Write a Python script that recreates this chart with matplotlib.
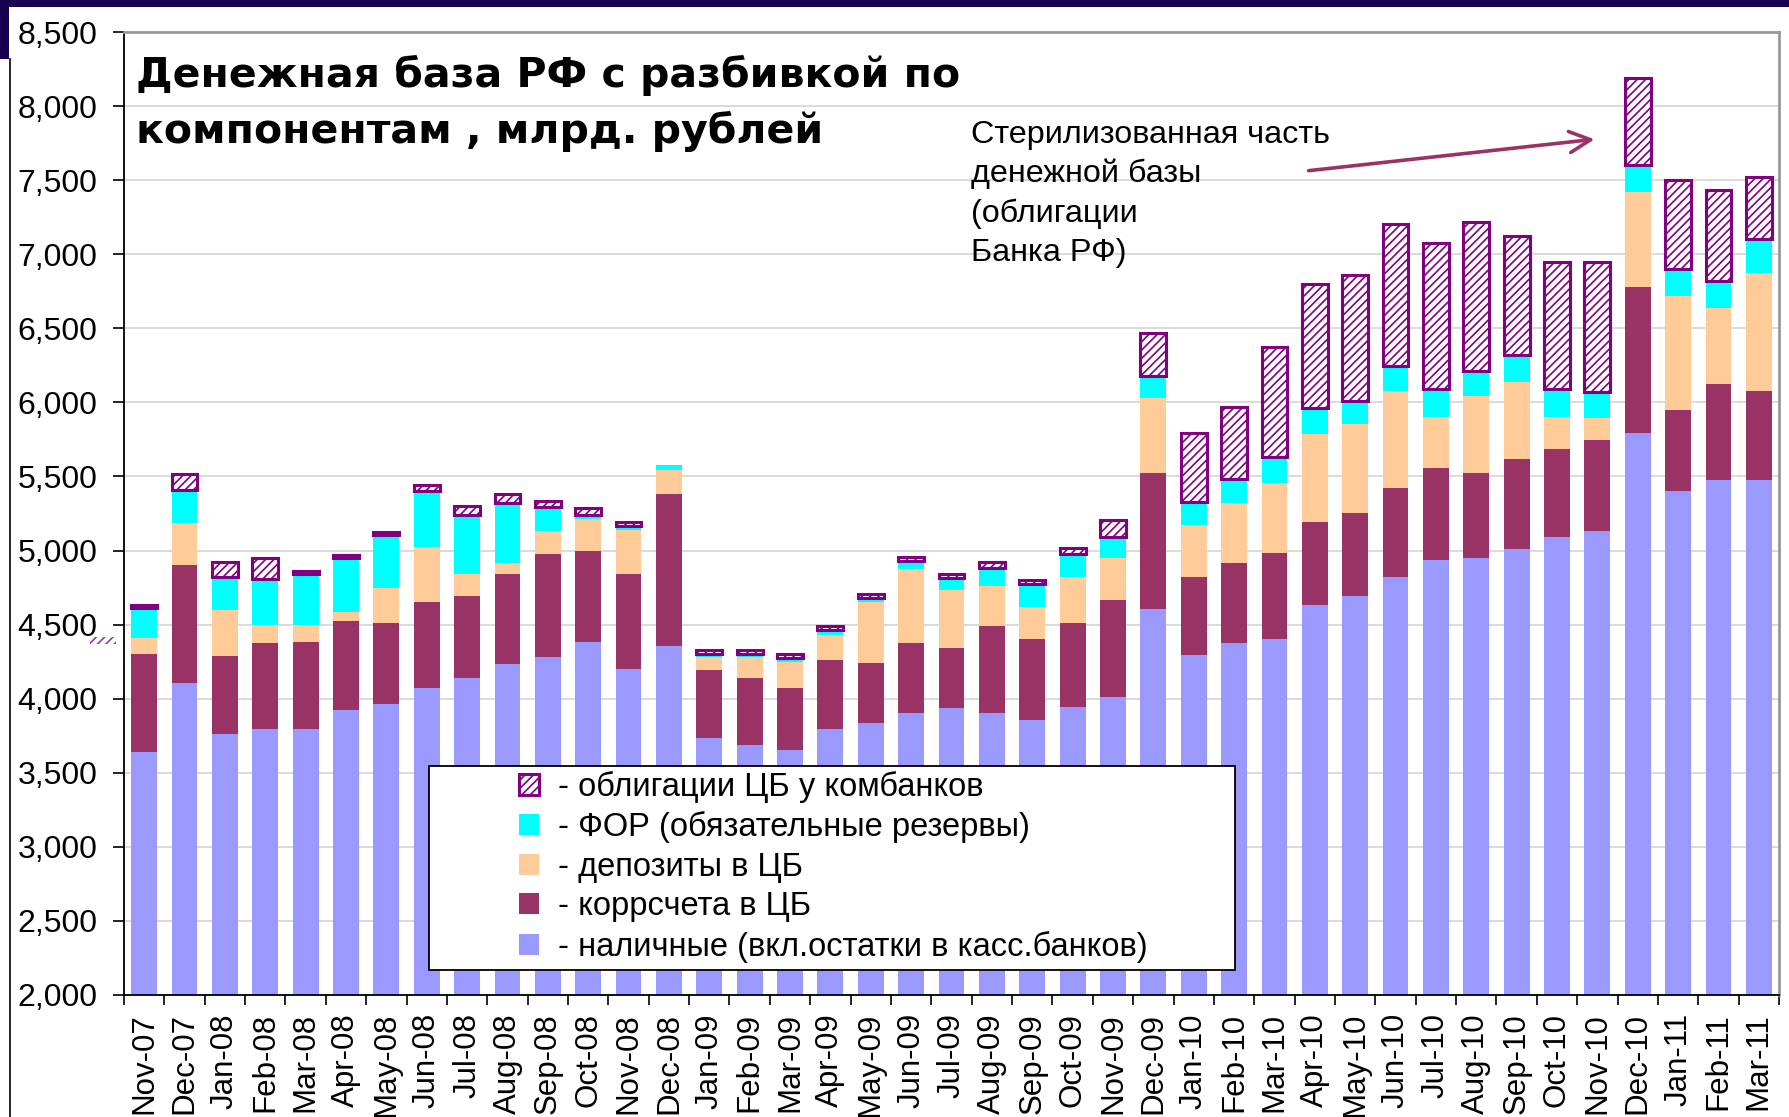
import numpy as np
import matplotlib
matplotlib.use('Agg')
import matplotlib.pyplot as plt
from matplotlib.patches import Rectangle
from matplotlib.ticker import FuncFormatter

plt.rcParams['font.family'] = ['Liberation Sans', 'DejaVu Sans']
plt.rcParams['hatch.linewidth'] = 1.2

# months Nov-07 .. Mar-11
months = ['Nov-07', 'Dec-07', 'Jan-08', 'Feb-08', 'Mar-08', 'Apr-08', 'May-08',
          'Jun-08', 'Jul-08', 'Aug-08', 'Sep-08', 'Oct-08', 'Nov-08', 'Dec-08',
          'Jan-09', 'Feb-09', 'Mar-09', 'Apr-09', 'May-09', 'Jun-09', 'Jul-09',
          'Aug-09', 'Sep-09', 'Oct-09', 'Nov-09', 'Dec-09', 'Jan-10', 'Feb-10',
          'Mar-10', 'Apr-10', 'May-10', 'Jun-10', 'Jul-10', 'Aug-10', 'Sep-10',
          'Oct-10', 'Nov-10', 'Dec-10', 'Jan-11', 'Feb-11', 'Mar-11']

# components, bn RUB
cash = [3637, 4108, 3760, 3793, 3793, 3921, 3961, 4074, 4139, 4231, 4279, 4385, 4199, 4358,
        3733, 3685, 3651, 3793, 3839, 3901, 3935, 3901, 3853, 3947, 4014, 4608, 4298, 4373,
        4406, 4635, 4695, 4822, 4937, 4950, 5012, 5091, 5132, 5795, 5400, 5478, 5478]
corr = [668, 796, 531, 580, 592, 605, 551, 580, 556, 613, 699, 613, 645, 1024,
        464, 452, 423, 471, 404, 472, 409, 592, 553, 565, 654, 916, 524, 543,
        579, 555, 560, 601, 623, 576, 608, 596, 615, 984, 549, 647, 599]
deposits = [104, 281, 305, 122, 110, 61, 238, 370, 149, 72, 154, 218, 295, 161,
            82, 142, 176, 169, 411, 500, 392, 271, 214, 310, 282, 505, 353, 402,
            473, 594, 601, 654, 344, 517, 519, 217, 145, 639, 767, 512, 795]
reserves = [206, 226, 224, 310, 344, 360, 353, 375, 399, 406, 159, 24, 26, 36,
            24, 24, 24, 31, 26, 55, 81, 121, 152, 156, 139, 151, 155, 162,
            176, 180, 151, 168, 185, 168, 181, 185, 180, 185, 185, 185, 234]
bonds = [20, 103, 101, 147, 22, 24, 24, 43, 60, 58, 43, 45, 25, 0,
         27, 27, 26, 26, 27, 27, 28, 40, 28, 41, 120, 289, 466, 491,
         738, 834, 851, 957, 988, 1008, 805, 860, 877, 584, 597, 613, 413]

labels = ['- наличные (вкл.остатки в касс.банков)',
          '- коррсчета в ЦБ',
          '- депозиты в ЦБ',
          '- ФОР (обязательные резервы)',
          '- облигации ЦБ у комбанков']
colors = ['#9999FF', '#993366', '#FFCC99', '#00FFFF']
bond_color = '#800080'

W, H = 1789, 1117
fig = plt.figure(figsize=(W / 100, H / 100), dpi=100)
ax = fig.add_axes([124 / W, 1 - 995 / H, (1779 - 124) / W, (995 - 32) / H])

x = np.arange(len(months))
width = 0.64
bottom = np.zeros(len(months))
handles = []
for vals, col, lab in zip([cash, corr, deposits, reserves], colors, labels):
    b = ax.bar(x, vals, width, bottom=bottom, color=col, linewidth=0, zorder=2, label=lab)
    handles.append(b)
    bottom = bottom + np.array(vals)

bonds = np.array(bonds)
has = bonds > 0
b = ax.bar(x[has], bonds[has], width, bottom=bottom[has], facecolor='white',
           edgecolor=bond_color, hatch='////', linewidth=2.2, zorder=3, label=labels[4])
handles.append(b)

ax.set_xlim(-0.5, len(months) - 0.5)
ax.set_ylim(2000, 8500)
ax.set_yticks(np.arange(2000, 8501, 500))
ax.yaxis.set_major_formatter(FuncFormatter(lambda v, p: f'{v:,.0f}'))
ax.tick_params(axis='y', labelsize=23, length=8, width=1.2, pad=11, direction='out')
ax.set_xticks(x)
ax.set_xticklabels(months, rotation=90, fontsize=22.5)
ax.tick_params(axis='x', which='major', length=0, pad=13)
ax.set_xticks(np.arange(-0.5, len(months), 1), minor=True)
ax.tick_params(axis='x', which='minor', length=7, width=1.2, direction='out')

ax.yaxis.grid(True, color='#D4D4D4', linewidth=1.2)
ax.set_axisbelow(True)
for s in ['top', 'right']:
    ax.spines[s].set_color('#999999')
    ax.spines[s].set_linewidth(2)
for s in ['left', 'bottom']:
    ax.spines[s].set_color('black')
    ax.spines[s].set_linewidth(1.3)

# legend box
ax.add_patch(Rectangle((429 / W, 1 - 970 / H), (1235 - 429) / W, (970 - 766) / H,
                       transform=fig.transFigure, facecolor='white', edgecolor='black',
                       linewidth=1.3, zorder=5, clip_on=False))
leg = ax.legend(handles[::-1], labels[::-1], loc='upper left',
                bbox_to_anchor=(519 / W, 1 - 771 / H), bbox_transform=fig.transFigure,
                frameon=False, fontsize=23.5, borderpad=0, borderaxespad=0,
                handlelength=0.6, handleheight=0.6, handletextpad=0.58,
                labelspacing=0.26)
leg.set_zorder(6)

# title
title_font = dict(fontsize=29.5, fontweight='bold', family='DejaVu Sans',
                  va='baseline', ha='left')
fig.text(136 / W, 1 - 87 / H, 'Денежная база РФ с разбивкой по', **title_font)
fig.text(136 / W, 1 - 143 / H, 'компонентам , млрд. рублей', **title_font)

# annotation
note = ['Стерилизованная часть', 'денежной базы', '(облигации', 'Банка РФ)']
for i, line in enumerate(note):
    fig.text(971 / W, 1 - (143 + 39.3 * i) / H, line, fontsize=23.3, va='baseline', ha='left')
ax.annotate('', xy=(36.0, 7778), xytext=(28.78, 7562),
            arrowprops=dict(arrowstyle='->', color='#993366', lw=2.6, mutation_scale=38))

# slide decorations
fig.patches.append(Rectangle((0, 1 - 7 / H), 1, 7 / H, transform=fig.transFigure,
                             facecolor='#170050', edgecolor='none'))
fig.patches.append(Rectangle((0, 1 - 59 / H), 9 / W, 59 / H, transform=fig.transFigure,
                             facecolor='#170050', edgecolor='none'))
fig.add_artist(plt.Line2D([10 / W, 10 / W], [0, 1 - 59 / H], transform=fig.transFigure,
                          color='black', linewidth=1.2))
ax.add_patch(Rectangle((90 / W, 1 - 644 / H), 26 / W, 7 / H, transform=fig.transFigure,
                       facecolor='none', edgecolor='#9933AA', hatch='////', linewidth=0,
                       clip_on=False))

fig.savefig('out.png', dpi=100)
